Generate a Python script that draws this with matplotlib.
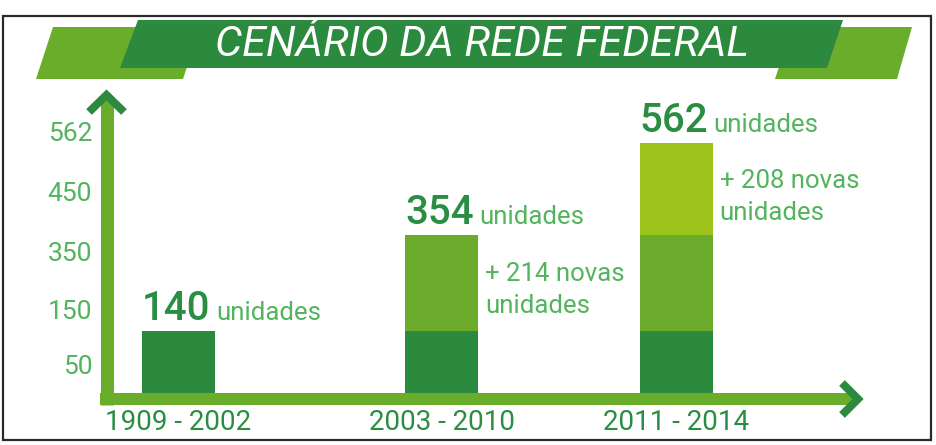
import matplotlib
matplotlib.use("Agg")
import matplotlib.pyplot as plt
from matplotlib.patches import Polygon, Rectangle
from matplotlib.lines import Line2D

# ---------------- data ----------------
categories = ["1909 - 2002", "2003 - 2010", "2011 - 2014"]
base_units = [140, 140, 140]          # unidades existentes até 2002
added_2010 = [0, 214, 214]            # novas unidades 2003-2010
added_2014 = [0, 0, 208]              # novas unidades 2011-2014
totals = [140, 354, 562]
new_labels = [None, "+ 214 novas\nunidades", "+ 208 novas\nunidades"]
ytick_labels = ["50", "150", "350", "450", "562"]
title = "CENÁRIO DA REDE FEDERAL"

# ---------------- layout / style ----------------
W, H = 936, 445
FONT = ["Roboto", "DejaVu Sans"]
plt.rcParams["font.family"] = FONT

DARK = "#2b8a3e"
MID = "#6cab2c"
LIGHT = "#9dc41c"
AXIS = "#6aad2b"
TXT_DARK = "#2a8e42"
TXT_LIGHT = "#52b45c"

x_pos = [0.0, 1.0, 1.892]     # category positions (layout)
bar_w = 0.278
# tick label positions (layout, in axis units)
ytick_pos = [65, 187, 319, 452, 587]

fig = plt.figure(figsize=(W / 100, H / 100), dpi=100)
fig.patch.set_facecolor("white")


def P(x, y):
    return (x / W, 1 - y / H)


def poly(pts, color, z):
    fig.add_artist(Polygon([P(*p) for p in pts], closed=True, transform=fig.transFigure,
                           facecolor=color, edgecolor="none", zorder=z))


# frame
fig.add_artist(Rectangle(P(3, 440), 928 / W, 424 / H, transform=fig.transFigure,
                         facecolor="none", edgecolor="#2a2a2a", lw=1.6, zorder=10))

# banner
poly([(53, 27), (200, 27), (183, 79), (36, 79)], AXIS, 1)
poly([(792, 27), (912, 27), (897, 79), (775, 79)], AXIS, 1)
poly([(138, 20), (843, 20), (827, 68), (120, 68)], DARK, 2)
fig.text(482 / W, 1 - 45 / H, title, color="white", fontsize=31, style="italic",
         fontweight="normal", ha="center", va="center", zorder=3)

# main axes: y=0 at pixel 393, 0.445 px per unit
ax_l, ax_r, ax_b, ax_t = 113, 850, 393, 93
ax = fig.add_axes([ax_l / W, 1 - ax_b / H, (ax_r - ax_l) / W, (ax_b - ax_t) / H])
ax.set_facecolor("none")
ax.set_ylim(0, (ax_b - ax_t) / 0.445)
ax.set_xlim((ax_l - 178.5) / 263, (ax_r - 178.5) / 263)
for s in ax.spines.values():
    s.set_visible(False)
ax.set_xticks([])
ax.set_yticks(ytick_pos)
ax.set_yticklabels(ytick_labels)
ax.tick_params(axis="y", length=0, pad=15, labelsize=19, labelcolor=TXT_LIGHT)

bottom2 = base_units
bottom3 = [a + b for a, b in zip(base_units, added_2010)]
ax.bar(x_pos, base_units, width=bar_w, color=DARK, zorder=2)
ax.bar(x_pos, added_2010, bottom=bottom2, width=bar_w, color=MID, zorder=2)
ax.bar(x_pos, added_2014, bottom=bottom3, width=bar_w, color=LIGHT, zorder=2)

for i, (xp, tot) in enumerate(zip(x_pos, totals)):
    left = xp - bar_w / 2
    t = ax.annotate(str(tot), xy=(left, tot), xytext=(0, 8), textcoords="offset points",
                    ha="left", va="baseline", fontsize=29, color=TXT_DARK,
                    fontweight="medium", annotation_clip=False)
    ax.annotate("unidades", xy=(1, tot), xycoords=(t, "data"), xytext=(4, 8),
                textcoords="offset points", ha="left", va="baseline", fontsize=18.5,
                color=TXT_LIGHT, annotation_clip=False)
    if new_labels[i]:
        ax.annotate(new_labels[i], xy=(xp + bar_w / 2, tot), xytext=(5, -19),
                    textcoords="offset points", ha="left", va="top", fontsize=18.5,
                    color=TXT_LIGHT, linespacing=1.42, annotation_clip=False)
    ax.annotate(categories[i], xy=(xp, 0), xytext=(0, -21), textcoords="offset points",
                ha="center", va="center", fontsize=20, color=TXT_DARK,
                fontweight="normal", annotation_clip=False)

# axis lines with arrows (figure pixels)
def line(xs, ys, color, lw, z, **kw):
    fig.add_artist(Line2D([x / W for x in xs], [1 - y / H for y in ys],
                          transform=fig.transFigure, color=color, lw=lw, zorder=z, **kw))

line([106.5, 106.5], [405, 100], AXIS, 13 * 0.72, 5, solid_capstyle="butt")
line([100, 852], [399, 399], AXIS, 12 * 0.72, 5, solid_capstyle="butt")
line([89, 106.5, 124], [112, 95, 112], DARK, 8 * 0.72, 6, solid_joinstyle="miter",
     solid_capstyle="butt")
line([842, 858, 842], [383, 399, 415], DARK, 8 * 0.72, 6, solid_joinstyle="miter",
     solid_capstyle="butt")

fig.savefig("out.png", dpi=100, facecolor="white")
